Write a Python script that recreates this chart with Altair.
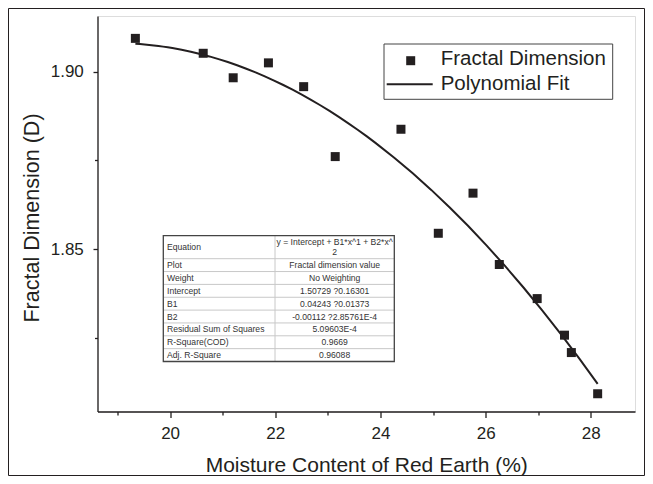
import altair as alt
import pandas as pd

# ---------------- data ----------------
moisture = [19.34, 20.63, 21.20, 21.87, 22.54, 23.14, 24.39, 25.10, 25.76, 26.26, 26.98, 27.50, 27.63, 28.13]
fractal = [1.9094, 1.9052, 1.8983, 1.9025, 1.8958, 1.8761, 1.8838, 1.8545, 1.8658, 1.8457, 1.8361, 1.8258, 1.8209, 1.8093]

x_ticks = [20, 22, 24, 26, 28]
x_minor = [19, 21, 23, 25, 27]
y_ticks = [1.85, 1.90]
y_minor = [1.825, 1.875]

legend_labels = ["Fractal Dimension", "Polynomial Fit"]

table_params = ["Equation", "Plot", "Weight", "Intercept", "B1", "B2",
                "Residual Sum of Squares", "R-Square(COD)", "Adj. R-Square"]
table_values = ["y = Intercept + B1*x^1 + B2*x^\n2", "Fractal dimension value", "No Weighting",
                "1.50729 ?0.16301", "0.04243 ?0.01373", "-0.00112 ?2.85761E-4",
                "5.09603E-4", "0.9669", "0.96088"]

# ---------------- layout / style ----------------
FONT = "Liberation Sans, Arial, sans-serif"
INK = "#231f20"
W, H = 537.5, 395.5

# table geometry (pixels relative to plot origin)
T_LEFT, T_MID, T_RIGHT, T_TOP = 65.8, 177.5, 296.8, 219.7
first_h, row_h = 23.0, 12.85
LINE_H = 10.5
bounds = [T_TOP, T_TOP + first_h]
for _ in range(len(table_params) - 1):
    bounds.append(bounds[-1] + row_h)
centers = [(bounds[i] + bounds[i + 1]) / 2 for i in range(len(table_params))]
# multi-line cells: Vega draws extra lines below the first, so lift the block to centre it
value_y = [c - (v.count("\n")) * LINE_H / 2 for c, v in zip(centers, table_values)]
T_BOTTOM = bounds[-1]

# legend geometry
L_X0, L_X1, L_Y0, L_Y1 = 286.5, 515.2, 28.0, 83.3
L_ROWS = [43.3, 68.3]

df = pd.DataFrame({"moisture": moisture, "fractal": fractal})
xs = alt.Scale(domain=[18.62, 28.84], nice=False, zero=False)
ys = alt.Scale(domain=[1.8043, 1.9157], nice=False, zero=False)

axis_common = dict(grid=False, domainColor=INK, domainWidth=1.3, tickColor=INK, tickWidth=1.3,
                   labelFont=FONT, labelColor=INK, titleFont=FONT, titleColor=INK,
                   titleFontWeight="normal", labelFlush=False)

points = alt.Chart(df).mark_square(size=81, color=INK, opacity=1).encode(
    x=alt.X("moisture:Q", scale=xs, axis=alt.Axis(
        values=x_ticks, orient="bottom", tickSize=6, labelFontSize=17, labelBaseline="alphabetic",
        labelPadding=21, title="Moisture Content of Red Earth (%)", titleFontSize=21,
        titleBaseline="alphabetic", titleY=59.5, titleX=W / 2, **axis_common)),
    y=alt.Y("fractal:Q", scale=ys, axis=alt.Axis(
        values=y_ticks, orient="left", tickSize=4.5, labelFontSize=17, labelPadding=9.7,
        labelBaseline="middle", format=".2f", title="Fractal Dimension (D)", titleFontSize=21.5,
        titleBaseline="bottom", titleAngle=270, titleX=-54, titleY=201.5, **axis_common)),
)

minor = alt.Chart(df).mark_point(opacity=0).encode(
    x=alt.X("moisture:Q", scale=xs, axis=alt.Axis(
        values=x_minor, orient="bottom", tickSize=3.5, labels=False, domain=False, title="",
        grid=False, tickColor=INK, tickWidth=1.3)),
    y=alt.Y("fractal:Q", scale=ys, axis=alt.Axis(
        values=y_minor, orient="left", tickSize=3, labels=False, domain=False, title="",
        grid=False, tickColor=INK, tickWidth=1.3)),
)

fit = alt.Chart(df).transform_regression(
    "moisture", "fractal", method="poly", order=2
).mark_line(color=INK, strokeWidth=2).encode(
    x=alt.X("moisture:Q", scale=xs, axis=None),
    y=alt.Y("fractal:Q", scale=ys, axis=None),
)

# ---------------- legend ----------------
one = pd.DataFrame({"k": [0]})
leg_box = alt.Chart(one).mark_rect(filled=False, stroke="#444", strokeWidth=1).encode(
    x=alt.value(L_X0), x2=alt.value(L_X1), y=alt.value(L_Y0), y2=alt.value(L_Y1))
leg_sq = alt.Chart(one).mark_square(size=81, color=INK, opacity=1).encode(
    x=alt.value(313.2), y=alt.value(L_ROWS[0] + 1.4))
leg_line = alt.Chart(one).mark_rule(color=INK, strokeWidth=2).encode(
    x=alt.value(289.2), x2=alt.value(335.2), y=alt.value(L_ROWS[1]))
leg_df = pd.DataFrame({"label": legend_labels, "py": L_ROWS})
leg_txt = alt.Chart(leg_df).mark_text(align="left", baseline="middle", font=FONT,
                                      fontSize=20.5, color=INK).encode(
    x=alt.value(343.2), y=alt.Y("py:Q", scale=None, axis=None), text="label:N")

# ---------------- fit table ----------------
tbl = pd.DataFrame({"param": table_params, "value": table_values, "cy": centers, "vy": value_y})
tbl_left = alt.Chart(tbl).mark_text(align="left", baseline="middle", font=FONT, fontSize=8.6,
                                    color="#333").encode(
    x=alt.value(T_LEFT + 3.7), y=alt.Y("cy:Q", scale=None, axis=None), text="param:N")
tbl_right = alt.Chart(tbl).mark_text(align="center", baseline="middle", font=FONT, fontSize=8.6,
                                     color="#333", lineBreak="\n", lineHeight=LINE_H).encode(
    x=alt.value((T_MID + T_RIGHT) / 2), y=alt.Y("vy:Q", scale=None, axis=None), text="value:N")
inner = pd.DataFrame({"by": bounds[1:-1]})
tbl_hlines = alt.Chart(inner).mark_rule(color="#c8c8c8", strokeWidth=1).encode(
    x=alt.value(T_LEFT), x2=alt.value(T_RIGHT), y=alt.Y("by:Q", scale=None, axis=None))
tbl_vline = alt.Chart(one).mark_rule(color="#c8c8c8", strokeWidth=1).encode(
    x=alt.value(T_MID), y=alt.value(T_TOP), y2=alt.value(T_BOTTOM))
tbl_box = alt.Chart(one).mark_rect(filled=False, stroke="#444", strokeWidth=1.3).encode(
    x=alt.value(T_LEFT), x2=alt.value(T_RIGHT), y=alt.value(T_TOP), y2=alt.value(T_BOTTOM))

# ---------------- outer frame ----------------
frame = alt.Chart(one).mark_rect(filled=False, stroke=INK, strokeWidth=1).encode(
    x=alt.value(-89.0), x2=alt.value(547.0), y=alt.value(-7.5), y2=alt.value(459.5))

chart = alt.layer(
    points, minor, fit, leg_box, leg_sq, leg_line, leg_txt,
    tbl_hlines, tbl_vline, tbl_box, tbl_left, tbl_right, frame
).resolve_axis(x="independent", y="independent").properties(
    width=W, height=H,
    autosize=alt.AutoSizeParams(type="none"),
    padding={"left": 89.5, "top": 8, "right": 10, "bottom": 64.5},
).configure_view(stroke=None).configure(background="white")

chart.save("out.html", embed_options={"renderer": "svg", "actions": False})
